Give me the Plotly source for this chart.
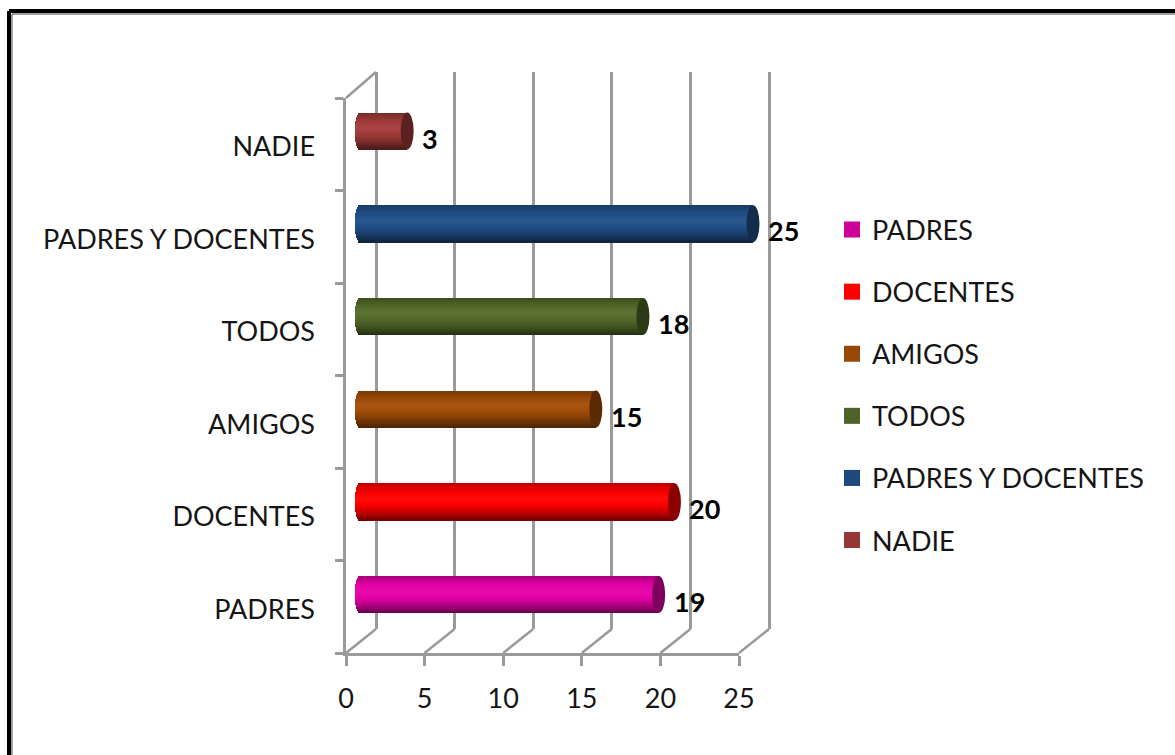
import plotly.graph_objects as go
import math

categories = ["PADRES", "DOCENTES", "AMIGOS", "TODOS", "PADRES Y DOCENTES", "NADIE"]
values = [19, 20, 15, 18, 25, 3]
base_colors = ["#E600A8", "#FF0000", "#A34D08", "#546A2A", "#22508A", "#A33C3A"]
legend_colors = ["#CC0099", "#FF0000", "#984807", "#4F6228", "#1F497D", "#953735"]
x_ticks = [0, 5, 10, 15, 20, 25]

W, H = 1175, 755
FONT = "Lato"
TEXT = "#151515"
GRID = "#9a9a9a"

# pixel geometry
FRONT_L, FRONT_R, FRONT_T, FRONT_B = 346, 739, 98, 653
BACK_L, BACK_R, BACK_T, BACK_B = 376, 769, 72, 629
PX = (FRONT_R - FRONT_L) / 25
BAR0 = 360
ROW = 92.7
ROW_TOP = 131
N = len(categories)
HALF_BAR = 18.5
CAP = 6.5
LEFT_CAP = 5
SLICES = 18
LABEL_DROP = 2.5


def dx(a, b):
    return [a / W, b / W]


def dy(top, bottom):
    return [1 - bottom / H, 1 - top / H]


def shade(hex_color, f):
    r, g, b = [int(hex_color[i:i + 2], 16) for i in (1, 3, 5)]
    if f <= 1:
        c = [v * f for v in (r, g, b)]
    else:
        c = [v + (255 - v) * (f - 1) for v in (r, g, b)]
    return "rgb(%d,%d,%d)" % tuple(round(v) for v in c)


def profile(t):
    # t: 0 top edge, 1 bottom edge of cylinder
    if t < 0.42:
        return 0.72 + (1.04 - 0.72) * math.sin(t / 0.42 * math.pi / 2)
    return 1.04 - (1.04 - 0.42) * ((t - 0.42) / 0.58) ** 1.7


fig = go.Figure()

# back wall: value gridlines come from this otherwise empty subplot
fig.add_trace(go.Scatter(x=[None], y=[None], xaxis="x2", yaxis="y2", showlegend=False,
                         hoverinfo="skip"))
# keep the front subplot and the category-label axis alive
fig.add_trace(go.Bar(orientation="h", y=categories, x=[None] * N, xaxis="x", yaxis="y",
                     showlegend=False, hoverinfo="skip"))
fig.add_trace(go.Bar(orientation="h", y=categories, x=[None] * N, xaxis="x", yaxis="y4",
                     showlegend=False, hoverinfo="skip"))

# cylinder bodies: horizontal slices sharing the value axis
unit_y = 1 / ROW
ids = list(range(N))
for k in range(SLICES):
    t0, t1 = k / SLICES, (k + 1) / SLICES
    tm = (t0 + t1) / 2
    bulge = LEFT_CAP * math.sqrt(max(0, 1 - (2 * tm - 1) ** 2)) / PX
    top_off = (HALF_BAR - t0 * 2 * HALF_BAR) * unit_y
    bot_off = (HALF_BAR - t1 * 2 * HALF_BAR) * unit_y
    fig.add_trace(go.Bar(
        orientation="h",
        y=ids,
        x=[v + bulge for v in values],
        base=[-bulge] * N,
        offset=bot_off,
        width=(top_off - bot_off) * 1.15,
        marker=dict(color=[shade(c, profile(tm)) for c in base_colors], line=dict(width=0)),
        xaxis="x3",
        yaxis="y3",
        showlegend=False,
        hoverinfo="skip",
    ))

# legend entries
for name, col in zip(categories, legend_colors):
    fig.add_trace(go.Scatter(
        x=[None], y=[None], mode="markers", name=name, legendgroup=name,
        marker=dict(symbol="square", size=16, color=col),
        xaxis="x3", yaxis="y3",
    ))

shapes = []
# outer frame
for col, off, w in (("#000000", 9, 4), ("#a0a0a0", 12, 2)):
    shapes.append(dict(type="line", xref="paper", yref="paper", layer="below",
                       x0=off / W, x1=off / W, y0=0, y1=1 - (off + 2) / H,
                       line=dict(color=col, width=w)))
    shapes.append(dict(type="line", xref="paper", yref="paper", layer="below",
                       x0=off / W, x1=1, y0=1 - (off + 2) / H, y1=1 - (off + 2) / H,
                       line=dict(color=col, width=w)))

# floor diagonals, tied to the value ticks (on the wider bar axis so none is clipped)
front_off = FRONT_L - BAR0
depth = BACK_L - FRONT_L
for t in x_ticks:
    shapes.append(dict(type="line", xref="x3", yref="paper", xsizemode="pixel", xanchor=t,
                       ysizemode="pixel", yanchor=1 - FRONT_B / H, layer="below",
                       x0=front_off, x1=front_off + depth, y0=0, y1=FRONT_B - BACK_B,
                       line=dict(color=GRID, width=2.5)))
# top side-wall diagonal
shapes.append(dict(type="line", xref="x3", yref="paper", xsizemode="pixel", xanchor=0,
                   ysizemode="pixel", yanchor=1 - FRONT_T / H, layer="below",
                   x0=front_off, x1=front_off + depth, y0=0, y1=FRONT_T - BACK_T,
                   line=dict(color=GRID, width=2.5)))

# cylinder end caps
for i, (v, c) in enumerate(zip(values, base_colors)):
    shapes.append(dict(type="circle", xref="x3", yref="y3", layer="above",
                       xsizemode="pixel", xanchor=v, x0=-CAP, x1=CAP,
                       ysizemode="pixel", yanchor=i, y0=-HALF_BAR, y1=HALF_BAR,
                       fillcolor=shade(c, 0.55), line=dict(width=0)))

# value labels
annotations = [dict(x=v, y=i, xref="x3", yref="y3", text="<b>%d</b>" % v, showarrow=False,
                    xanchor="left", xshift=13, yshift=-7,
                    font=dict(family=FONT, size=27, color="#000000"))
               for i, v in enumerate(values)]

axis_font = dict(family=FONT, size=27, color=TEXT)
bar_l = BAR0 - 1 * PX
bar_r = BAR0 + 27 * PX
back_pad = 1
fig.update_layout(
    width=W, height=H, margin=dict(l=0, r=0, t=0, b=0, autoexpand=False),
    paper_bgcolor="white", plot_bgcolor="rgba(0,0,0,0)",
    barmode="overlay",
    bargap=0,
    shapes=shapes,
    annotations=annotations,
    font=dict(family=FONT, color=TEXT),
    xaxis=dict(domain=dx(FRONT_L, FRONT_R), range=[0, 25], anchor="y", tickmode="array",
               tickvals=x_ticks, ticks="outside", ticklen=10, tickwidth=2.5, tickcolor=GRID,
               showline=True, linewidth=2.5, linecolor=GRID, showgrid=False, zeroline=False,
               tickfont=axis_font, ticklabelstandoff=10),
    yaxis=dict(domain=dy(FRONT_T, FRONT_B), anchor="x", type="category",
               categoryorder="array", categoryarray=categories, tickson="boundaries",
               range=[-0.5, N - 0.5], tickmode="array", tickvals=categories,
               showticklabels=False,
               ticks="outside", ticklen=8, tickwidth=2.5, tickcolor=GRID,
               showline=True, linewidth=2.5, linecolor=GRID, showgrid=False, zeroline=False),
    yaxis4=dict(domain=dy(FRONT_T + LABEL_DROP, FRONT_B + LABEL_DROP), anchor="x", type="category",
                categoryorder="array", categoryarray=categories,
                range=[-0.5, N - 0.5], tickmode="array", tickvals=categories, ticktext=categories,
                ticks="", showline=False, showgrid=False, zeroline=False,
                tickfont=axis_font, ticklabelstandoff=30),
    xaxis2=dict(domain=dx(BACK_L - back_pad * PX, BACK_R + back_pad * PX),
                range=[-back_pad, 25 + back_pad], anchor="y2", tickmode="array",
                tickvals=x_ticks, showticklabels=False, ticks="", showgrid=True,
                gridcolor=GRID, gridwidth=2.5, zeroline=False, showline=False),
    yaxis2=dict(domain=dy(BACK_T, BACK_B), anchor="x2", range=[0, 1], showticklabels=False,
                ticks="", showgrid=False, zeroline=False, showline=False),
    xaxis3=dict(domain=dx(bar_l, bar_r), range=[-1, 27], anchor="y3", visible=False),
    yaxis3=dict(domain=dy(ROW_TOP - ROW / 2, ROW_TOP + (N - 0.5) * ROW), anchor="x3",
                range=[-0.5, N - 0.5], visible=False),
    legend=dict(x=832 / W, y=1 - 205.5 / H, xanchor="left", yanchor="top",
                bgcolor="rgba(0,0,0,0)", tracegroupgap=24, itemwidth=30,
                font=dict(family=FONT, size=27, color=TEXT), traceorder="grouped"),
)

fig.write_html("out.html", config={"displayModeBar": False},
               post_script="document.body.style.margin='0';")
